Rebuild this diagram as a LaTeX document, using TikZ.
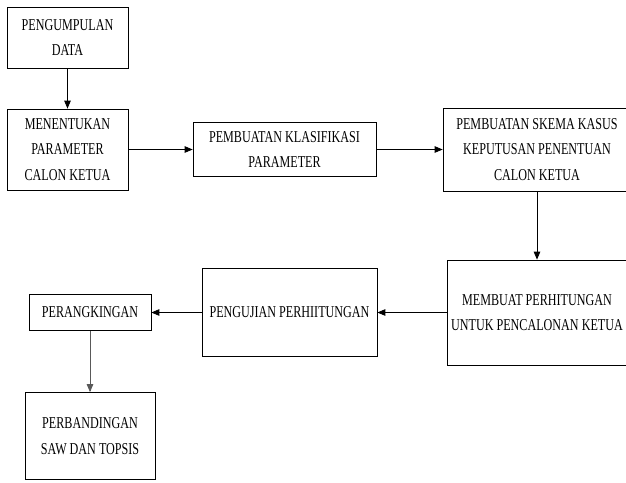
\documentclass[tikz,border=0pt]{standalone}
\usepackage{fontspec}
\setmainfont{Liberation Serif}[FakeStretch=0.73]
\usetikzlibrary{arrows}

\begin{document}
\begin{tikzpicture}[->,>=triangle 45,line width=0.8pt,
        box/.style={draw,rectangle,align=center,inner sep=0pt,
          font=\fontsize{16.6}{25.5}\selectfont}]
      \useasboundingbox (0,0) rectangle (626pt,-482pt);
      \node[box,minimum width=121pt,minimum height=61pt] (data) at (67.5pt,-37.5pt) {PENGUMPULAN\\DATA};
      \node[box,minimum width=121pt,minimum height=81pt] (param) [below of=data,node distance=112pt] {MENENTUKAN\\PARAMETER\\CALON KETUA};
      \node[box,minimum width=183pt,minimum height=54pt] (klas) [right of=param,node distance=217pt] {PEMBUATAN KLASIFIKASI\\PARAMETER};
      \node[box,minimum width=188pt,minimum height=83pt] (skema) [right of=klas,node distance=252.5pt] {PEMBUATAN SKEMA KASUS\\KEPUTUSAN PENENTUAN\\CALON KETUA};
      \node[box,minimum width=180pt,minimum height=105pt] (hitung) [below of=skema,node distance=163pt] {MEMBUAT PERHITUNGAN\\UNTUK PENCALONAN KETUA};
      \node[box,minimum width=175pt,minimum height=88pt] (uji) [left of=hitung,node distance=247.5pt] {PENGUJIAN PERHIITUNGAN};
      \node[box,minimum width=122pt,minimum height=36pt] (rank) [left of=uji,node distance=199.5pt] {PERANGKINGAN};
      \node[box,minimum width=130pt,minimum height=87pt] (banding) [below of=rank,node distance=123.5pt] {PERBANDINGAN\\SAW DAN TOPSIS};
      \path (data) edge (param)
      (param) edge (klas)
      (klas) edge (skema)
      (skema) edge (hitung)
      (hitung) edge (uji)
      (uji) edge (rank)
      (rank) edge [draw=gray!70!black] (banding);
    \end{tikzpicture}
\end{document}
